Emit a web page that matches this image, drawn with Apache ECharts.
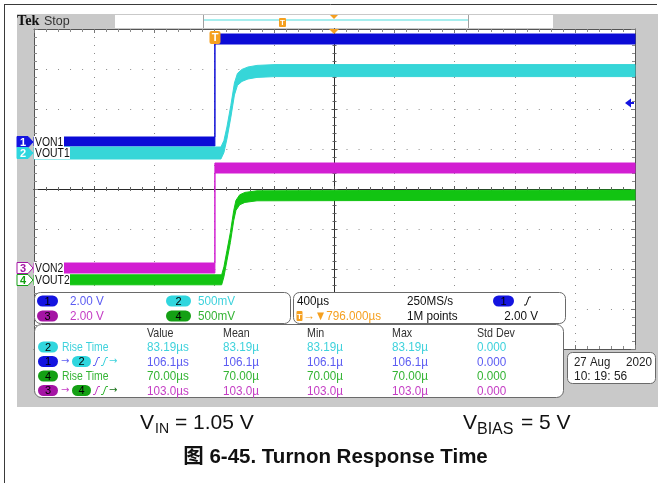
<!DOCTYPE html>
<html><head><meta charset="utf-8">
<script src="https://cdn.jsdelivr.net/npm/echarts@6/dist/echarts.min.js"></script>
<style>html,body{margin:0;padding:0;background:#fff}#c{width:661px;height:483px}</style>
</head><body><div id="c"></div>
<script>
// ---------------- data ----------------
const US_PER_DIV = 400;          // horizontal scale
const CENTER_US = 796;           // trigger -> screen centre
const CH_VDIV = [2, 0.5, 2, 0.5];            // V/div for CH1..CH4
const CH_POS  = [1.175, 0.9, -1.975, -2.275]; // ground position (div)
const CH_NAME = ['VON1', 'VOUT1', 'VON2', 'VOUT2'];
const CH_SCALE_LABEL = ['2.00 V', '500mV', '2.00 V', '500mV'];

// CH1 VON1 (time µs, min / max envelope in V)
const CH1_T  = [-1204, 0, 0, 2796];
const CH1_LO = [-0.2, -0.2, 4.9, 4.9];
const CH1_HI = [0.25, 0.25, 5.4, 5.4];
// CH2 VOUT1
const CH2_T  = [-1204, 40, 60, 80, 106, 130, 150, 180, 220, 280, 400, 2796];
const CH2_LO = [-0.075, -0.075, 0.005, 0.175, 0.445, 0.725, 0.845, 0.895, 0.925, 0.945, 0.955, 0.955];
const CH2_HI = [0.075, 0.075, 0.155, 0.325, 0.595, 0.875, 0.995, 1.045, 1.075, 1.095, 1.105, 1.105];
// CH3 VON2
const CH3_T  = [-1204, 0, 0, 2796];
const CH3_LO = [-0.25, -0.25, 4.75, 4.75];
const CH3_HI = [0.25, 0.25, 5.25, 5.25];
// CH4 VOUT2
const CH4_T  = [-1204, 45, 60, 80, 103, 125, 140, 165, 200, 280, 2796];
const CH4_LO = [-0.06, -0.06, 0.04, 0.24, 0.47, 0.74, 0.87, 0.94, 0.97, 0.99, 1.0];
const CH4_HI = [0.065, 0.065, 0.165, 0.365, 0.595, 0.865, 0.995, 1.065, 1.095, 1.115, 1.125];

// timebase / trigger panel
const TB_SCALE = '400µs', TB_RATE = '250MS/s', TB_POINTS = '1M points', TB_POS = '796.000µs', TRIG_LEVEL = '2.00 V';
// measurements
const MEAS_HEAD  = ['Value', 'Mean', 'Min', 'Max', 'Std Dev'];
const MEAS_VALUE = ['83.19µs', '106.1µs', '70.00µs', '103.0µs'];
const MEAS_MEAN  = ['83.19µ', '106.1µ', '70.00µ', '103.0µ'];
const MEAS_MIN   = ['83.19µ', '106.1µ', '70.00µ', '103.0µ'];
const MEAS_MAX   = ['83.19µ', '106.1µ', '70.00µ', '103.0µ'];
const MEAS_STD   = ['0.000', '0.000', '0.000', '0.000'];
const DATE_TXT = ['27 Aug', '2020', '10: 19: 56'];

// ---------------- styling ----------------
const TRACE = ['#0b0bd6', '#36d6d8', '#d21ed2', '#12c412'];
const PILL  = ['#1414e0', '#30d6de', '#a414a4', '#14a014'];
const TXTC  = ['#5c5cf2', '#3ed2dc', '#c43cc4', '#34b434'];
const ORANGE = '#f5a020';
const UI = '"Liberation Sans",Arial,sans-serif';
const ARIAL = '"Liberation Sans",Arial,"Noto Sans CJK SC",sans-serif';

const chart = echarts.init(document.getElementById('c'), null, {renderer: 'canvas', width: 661, height: 483});

function band(t, lo, hi, ch) {
  return {
    type: 'custom', xAxisIndex: 0, yAxisIndex: 0, z: 3 + ch, silent: true,
    data: [[0, 0]],
    renderItem: function (params, api) {
      const pt = (tt, v) => api.coord([(tt - CENTER_US) / US_PER_DIV, v / CH_VDIV[ch] + CH_POS[ch]]);
      const pts = [];
      for (let i = 0; i < t.length; i++) pts.push(pt(t[i], lo[i]));
      for (let i = t.length - 1; i >= 0; i--) pts.push(pt(t[i], hi[i]));
      return {type: 'polygon', shape: {points: pts}, style: {fill: TRACE[ch], stroke: TRACE[ch], lineWidth: 1}};
    }
  };
}

// ---------------- graphic helpers ----------------
const g = [];
function rect(x, y, w, h, fill, stroke, r, z) {
  g.push({type: 'rect', z: z, silent: true, shape: {x: x, y: y, width: w, height: h, r: r || 0},
    style: {fill: fill || 'none', stroke: stroke || 'none', lineWidth: 1}});
}
function line(x1, y1, x2, y2, color, w, z) {
  g.push({type: 'line', z: z || 110, silent: true, shape: {x1, y1, x2, y2}, style: {stroke: color, lineWidth: w || 1}});
}
function poly(points, fill, stroke, z) {
  g.push({type: 'polygon', z: z || 110, silent: true, shape: {points: points}, style: {fill: fill || 'none', stroke: stroke || 'none', lineWidth: 1}});
}
function txt(x, y, s, color, size, o) {
  o = o || {};
  const font = (o.weight || 'normal') + ' ' + size + 'px ' + (o.family || UI);
  const al = o.align || 'left';
  g.push({type: 'text', z: o.z || 110, silent: true, x: x, y: y, scaleX: o.sx || 1, scaleY: 1,
    style: {text: s, fill: color, font: font, textAlign: al, align: al, textVerticalAlign: 'middle', verticalAlign: 'middle'}});
}
const NUM = 0.9, LET = 0.82;
function pill(x, y, w, ch, label) {
  rect(x, y - 5.5, w, 11, PILL[ch], null, 5.5, 105);
  txt(x + w / 2, y + 0.5, label, '#000', 11, {align: 'center'});
}
function edge(x, y, color) {
  g.push({type: 'polyline', z: 110, silent: true, shape: {points: [[x, y + 4], [x + 2, y + 4], [x + 5, y - 4], [x + 7, y - 4]]},
    style: {stroke: color, lineWidth: 1, fill: 'none'}});
}

// page frame
line(4, 4.5, 657, 4.5, '#3a3a3a', 1, 1);
line(4.5, 4, 4.5, 483, '#3a3a3a', 1, 1);
// scope gray background & graticule field
rect(17, 14, 641, 393, '#c9c9c9', null, 0, -100);
rect(34, 29, 601, 320, '#ffffff', null, 0, -50);
// header
txt(17, 21.5, 'Tek', '#111', 15, {weight: 'bold', family: '"Liberation Serif","DejaVu Serif",serif', sx: 0.95});
txt(44, 21.5, 'Stop', '#333', 12.5, {family: ARIAL});
rect(115, 15, 438, 13, '#ffffff', null, 0, -90);
line(203.5, 15, 203.5, 28, '#a0a0a0', 1, -80);
line(468.5, 15, 468.5, 28, '#a0a0a0', 1, -80);
line(204, 20, 468, 20, '#a6eeee', 2, -80);
rect(279, 18, 7, 9, ORANGE, null, 1, 110);
txt(282.5, 22.5, 'T', '#fff', 8, {align: 'center', weight: 'bold', family: ARIAL});
poly([[330, 15], [338, 15], [334, 19]], ORANGE);
// trigger markers on graticule
poly([[329, 29], [339, 29], [334, 34]], ORANGE);
rect(209.5, 31, 11, 13, ORANGE, null, 2, 110);
txt(215, 37.5, 'T', '#fff', 11, {align: 'center', weight: 'bold', family: ARIAL, z: 111});
// trigger level arrow (CH1)
poly([[625, 103], [631, 98.5], [631, 107.5]], '#1414e0');
line(631, 103, 634, 103, '#1414e0', 2);

// channel ground markers + labels
const GND_Y = [142, 153, 268, 280];
for (let i = 0; i < 4; i++) {
  const y = GND_Y[i];
  const filled = i < 2;
  poly([[17, y - 5.5], [28, y - 5.5], [33, y], [28, y + 5.5], [17, y + 5.5]], filled ? PILL[i] : '#ffffff', PILL[i], 100);
  txt(23, y + 0.5, String(i + 1), filled ? '#ffffff' : PILL[i], 11, {align: 'center', weight: 'bold', family: ARIAL});
  const w = CH_NAME[i].length === 4 ? 30 : 36;
  rect(34, y - 6, w, 12, '#ffffff', null, 0, 100);
  txt(35, y + 0.5, CH_NAME[i], '#111', 13, {sx: 0.8});
}

// channel scale panel
rect(34.5, 292.5, 256, 31, '#ffffff', '#6a6a6a', 6, 100);
pill(37, 301, 21, 0, '1'); txt(70, 301.5, CH_SCALE_LABEL[0], TXTC[0], 13, {sx: NUM});
pill(166, 301, 25, 1, '2'); txt(198, 301.5, CH_SCALE_LABEL[1], TXTC[1], 13, {sx: NUM});
pill(37, 316, 21, 2, '3'); txt(70, 316.5, CH_SCALE_LABEL[2], TXTC[2], 13, {sx: NUM});
pill(166, 316, 25, 3, '4'); txt(198, 316.5, CH_SCALE_LABEL[3], TXTC[3], 13, {sx: NUM});
// timebase panel
rect(293.5, 292.5, 272, 31, '#ffffff', '#6a6a6a', 6, 100);
txt(297, 301.5, TB_SCALE, '#111', 13, {sx: NUM});
txt(407, 301.5, TB_RATE, '#111', 13, {sx: NUM});
pill(493, 301, 21, 0, '1');
edge(524, 301, '#111');
rect(296.5, 311, 6, 10, ORANGE, null, 1, 105);
txt(299.5, 316.5, 'T', '#fff', 8, {align: 'center', weight: 'bold', family: ARIAL});
txt(303, 316.5, '→▼' + TB_POS, ORANGE, 13, {sx: NUM});
txt(407, 316.5, TB_POINTS, '#111', 13, {sx: NUM});
txt(538, 316.5, TRIG_LEVEL, '#111', 13, {align: 'right', sx: NUM});
// measurement panel
rect(34.5, 324.5, 529, 73, '#ffffff', '#6a6a6a', 7, 100);
const COLX = [147, 223, 307, 392, 477];
const ROWY = [347, 361.5, 376, 390.5];
MEAS_HEAD.forEach((h, k) => txt(COLX[k], 333, h, '#333', 13, {sx: LET}));
const ROWCH = [1, 0, 3, 2];
for (let r = 0; r < 4; r++) {
  const y = ROWY[r], c = TXTC[ROWCH[r]];
  if (r % 2 === 0) {
    pill(38, y, 20, ROWCH[r], String(ROWCH[r] + 1));
    txt(62, y + 0.5, 'Rise Time', c, 13, {sx: 0.8});
  } else {
    const a = r === 1 ? 0 : 2, b = r === 1 ? 1 : 3;
    pill(38, y, 20, a, String(a + 1));
    txt(61, y, '→', TXTC[a], 10, {family: '"DejaVu Sans",sans-serif'});
    pill(72, y, 19, b, String(b + 1));
    edge(93, y, TXTC[a]);
    edge(101, y, TXTC[b]);
    txt(109, y, '→', r === 1 ? TXTC[b] : '#167016', 10, {family: '"DejaVu Sans",sans-serif'});
  }
  txt(COLX[0], y + 0.5, MEAS_VALUE[r], c, 13, {sx: NUM});
  txt(COLX[1], y + 0.5, MEAS_MEAN[r], c, 13, {sx: NUM});
  txt(COLX[2], y + 0.5, MEAS_MIN[r], c, 13, {sx: NUM});
  txt(COLX[3], y + 0.5, MEAS_MAX[r], c, 13, {sx: NUM});
  txt(COLX[4], y + 0.5, MEAS_STD[r], c, 13, {sx: NUM});
}
// date box
rect(567.5, 352.5, 88, 31, '#ffffff', '#6a6a6a', 5, 100);
txt(574, 362, DATE_TXT[0], '#222', 13, {sx: 0.88});
txt(652, 362, DATE_TXT[1], '#222', 13, {align: 'right', sx: 0.9});
txt(574, 376, DATE_TXT[2], '#222', 13, {sx: 0.92});

// caption texts below the screenshot
txt(140, 423.5, 'V', '#111', 21, {family: ARIAL});
txt(155, 429, 'IN', '#111', 14, {family: ARIAL});
txt(175, 423.5, '= 1.05 V', '#111', 21, {family: ARIAL});
txt(463, 423.5, 'V', '#111', 21, {family: ARIAL});
txt(477, 429.5, 'BIAS', '#111', 16, {family: ARIAL});
txt(521, 423.5, '= 5 V', '#111', 21, {family: ARIAL});
txt(335.5, 457, '图 6-45. Turnon Response Time', '#111', 20.5, {align: 'center', weight: 'bold', family: ARIAL});

// ---------------- axes (graticule) ----------------
const GRID = {left: 34, top: 29, width: 601, height: 320};
const base = {type: 'value', axisLabel: {show: false}, axisPointer: {show: false}, splitLine: {show: false}};
function borderAxis(grid, pos, isX, split) {
  return Object.assign({}, base, {
    gridIndex: grid, position: pos,
    min: isX ? -5 : -4, max: isX ? 5 : 4, interval: 1,
    axisLine: {show: true, onZero: false, lineStyle: {color: '#555', width: 1}},
    axisTick: {show: true, inside: true, length: 4, lineStyle: {color: '#777'}},
    minorTick: {show: true, splitNumber: 5, length: 3, lineStyle: {color: '#8a8a8a'}},
    splitLine: {show: split, lineStyle: {color: '#8c8c8c', width: 1, type: isX ? [1, 7] : [1, 11.02]}}
  });
}
function centerAxis(grid, isX, inside) {
  return Object.assign({}, base, {
    gridIndex: grid, position: isX ? 'bottom' : 'left',
    min: isX ? -5 : -4, max: isX ? 5 : 4, interval: 1,
    axisLine: {show: true, onZero: true, lineStyle: {color: '#2a2a2a', width: 1}},
    axisTick: {show: true, inside: inside, length: 3, lineStyle: {color: '#555'}},
    minorTick: {show: true, splitNumber: 5, length: 2, lineStyle: {color: '#666'}}
  });
}

chart.setOption({
  animation: false,
  backgroundColor: '#ffffff',
  grid: [Object.assign({}, GRID), Object.assign({}, GRID), Object.assign({}, GRID)],
  xAxis: [borderAxis(0, 'bottom', true, true), borderAxis(0, 'top', true, false), centerAxis(1, true, false), centerAxis(2, true, true)],
  yAxis: [borderAxis(0, 'left', false, true), borderAxis(0, 'right', false, false), centerAxis(1, false, false), centerAxis(2, false, true)],
  series: [
    band(CH3_T, CH3_LO, CH3_HI, 2),
    band(CH1_T, CH1_LO, CH1_HI, 0),
    band(CH4_T, CH4_LO, CH4_HI, 3),
    band(CH2_T, CH2_LO, CH2_HI, 1)
  ],
  graphic: {elements: g}
});
</script>
</body></html>
